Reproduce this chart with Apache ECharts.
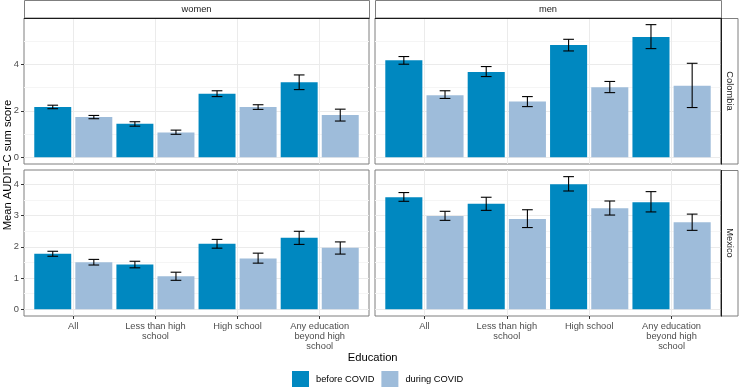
<!DOCTYPE html>
<html>
<head>
<meta charset="utf-8">
<script src="https://cdn.jsdelivr.net/npm/echarts@6/dist/echarts.min.js"></script>
<style>
  html, body { margin: 0; padding: 0; background: #ffffff; }
  #chart { width: 740px; height: 388px; }
</style>
</head>
<body>
<div id="chart"></div>
<script>
// ---------------- data ----------------
const categories = ['All', 'Less than high\nschool', 'High school', 'Any education\nbeyond high\nschool'];
const categoryPositions = [1, 2, 3, 4];
const sexes = ['women', 'men'];
const countries = ['Colombia', 'Mexico'];
const periods = ['before COVID', 'during COVID'];

// Colombia - women
const colWomenBefore   = [2.16, 1.44, 2.73, 3.23];
const colWomenBeforeLo = [2.09, 1.34, 2.61, 2.91];
const colWomenBeforeHi = [2.24, 1.53, 2.86, 3.54];
const colWomenDuring   = [1.73, 1.07, 2.16, 1.82];
const colWomenDuringLo = [1.66, 0.99, 2.06, 1.56];
const colWomenDuringHi = [1.80, 1.17, 2.26, 2.07];
// Colombia - men
const colMenBefore   = [4.17, 3.67, 4.83, 5.17];
const colMenBeforeLo = [4.00, 3.47, 4.57, 4.67];
const colMenBeforeHi = [4.33, 3.90, 5.07, 5.70];
const colMenDuring   = [2.67, 2.40, 3.01, 3.08];
const colMenDuringLo = [2.53, 2.18, 2.78, 2.14];
const colMenDuringHi = [2.86, 2.61, 3.26, 4.04];
// Mexico - women
const mexWomenBefore   = [1.78, 1.44, 2.10, 2.29];
const mexWomenBeforeLo = [1.70, 1.33, 1.96, 2.08];
const mexWomenBeforeHi = [1.86, 1.54, 2.24, 2.50];
const mexWomenDuring   = [1.51, 1.06, 1.63, 1.97];
const mexWomenDuringLo = [1.42, 0.93, 1.48, 1.77];
const mexWomenDuringHi = [1.60, 1.19, 1.80, 2.16];
// Mexico - men
const mexMenBefore   = [3.59, 3.38, 4.01, 3.43];
const mexMenBeforeLo = [3.46, 3.17, 3.79, 3.12];
const mexMenBeforeHi = [3.74, 3.59, 4.25, 3.77];
const mexMenDuring   = [2.99, 2.89, 3.24, 2.79];
const mexMenDuringLo = [2.85, 2.62, 3.02, 2.53];
const mexMenDuringHi = [3.14, 3.19, 3.47, 3.05];

// tick labels
const colombiaTicks = [0, 2, 4];
const colombiaMinorTicks = [1, 3, 5];
const mexicoTicks = [0, 1, 2, 3, 4];
const mexicoMinorTicks = [0.5, 1.5, 2.5, 3.5];

// ---------------- layout / style ----------------
const FONT = 'Liberation Sans, Arial, Helvetica, sans-serif';
const COLORS = ['#0088C0', '#9EBCDA'];
const DODGE = 0.25;
const CAP = 0.13;

// free y scale per country row (ggplot-like 5% expansion)
function rowLimits(his) {
  const m = Math.max.apply(null, [].concat.apply([], his));
  return [-0.05 * m, 1.05 * m];
}
const colLimits = rowLimits([colWomenBeforeHi, colWomenDuringHi, colMenBeforeHi, colMenDuringHi]);
const mexLimits = rowLimits([mexWomenBeforeHi, mexWomenDuringHi, mexMenBeforeHi, mexMenDuringHi]);

const panels = [
  { grid: { left: 24, top: 18, width: 345, height: 146 }, left: true, bottom: false,
    lim: colLimits, ticks: colombiaTicks, minor: colombiaMinorTicks,
    vals: [colWomenBefore, colWomenDuring], lo: [colWomenBeforeLo, colWomenDuringLo], hi: [colWomenBeforeHi, colWomenDuringHi] },
  { grid: { left: 375, top: 18, width: 346, height: 146 }, left: false, bottom: false,
    lim: colLimits, ticks: colombiaTicks, minor: colombiaMinorTicks,
    vals: [colMenBefore, colMenDuring], lo: [colMenBeforeLo, colMenDuringLo], hi: [colMenBeforeHi, colMenDuringHi] },
  { grid: { left: 24, top: 170, width: 345, height: 146 }, left: true, bottom: true,
    lim: mexLimits, ticks: mexicoTicks, minor: mexicoMinorTicks,
    vals: [mexWomenBefore, mexWomenDuring], lo: [mexWomenBeforeLo, mexWomenDuringLo], hi: [mexWomenBeforeHi, mexWomenDuringHi] },
  { grid: { left: 375, top: 170, width: 346, height: 146 }, left: false, bottom: true,
    lim: mexLimits, ticks: mexicoTicks, minor: mexicoMinorTicks,
    vals: [mexMenBefore, mexMenDuring], lo: [mexMenBeforeLo, mexMenDuringLo], hi: [mexMenBeforeHi, mexMenDuringHi] }
];

function errRender(offset) {
  return function (params, api) {
    const x = api.value(0) + offset;
    const a = api.coord([x, api.value(1)]);
    const b = api.coord([x, api.value(2)]);
    const half = api.size([CAP, 0])[0] / 2;
    const st = { stroke: '#000', lineWidth: 1.1 };
    return {
      type: 'group',
      children: [
        { type: 'line', shape: { x1: a[0], y1: a[1], x2: b[0], y2: b[1] }, style: st },
        { type: 'line', shape: { x1: a[0] - half, y1: a[1], x2: a[0] + half, y2: a[1] }, style: st },
        { type: 'line', shape: { x1: b[0] - half, y1: b[1], x2: b[0] + half, y2: b[1] }, style: st }
      ]
    };
  };
}

const grids = [], xAxes = [], yAxes = [], series = [];
panels.forEach(function (p, g) {
  grids.push(Object.assign({ show: true, borderColor: '#7f7f7f', borderWidth: 1, backgroundColor: 'transparent' }, p.grid));
  xAxes.push({
    gridIndex: g, type: 'value', min: 0.4, max: 4.6, position: 'bottom',
    axisLine: { show: false, onZero: false },
    axisTick: { show: p.bottom, length: 3, lineStyle: { color: '#333' }, customValues: categoryPositions },
    axisLabel: { show: p.bottom, customValues: categoryPositions, margin: 5,
      fontFamily: FONT, fontSize: 9.3, lineHeight: 10, color: '#4d4d4d', align: 'center',
      formatter: function (v) { return categories[Math.round(v) - 1]; } },
    splitLine: { show: true, lineStyle: { color: '#ebebeb', width: 1 } }
  });
  yAxes.push({
    gridIndex: g, type: 'value', min: p.lim[0], max: p.lim[1],
    axisLine: { show: false, onZero: false },
    axisTick: { show: p.left, length: 3, lineStyle: { color: '#333' }, customValues: p.ticks },
    axisLabel: { show: p.left, customValues: p.ticks, margin: 5, fontFamily: FONT, fontSize: 9.3, color: '#4d4d4d' },
    splitLine: { show: true, lineStyle: { color: '#ebebeb', width: 1 } }
  });
});
// minor gridline axes
panels.forEach(function (p, g) {
  yAxes.push({
    gridIndex: g, type: 'value', min: p.lim[0], max: p.lim[1],
    axisLine: { show: false, onZero: false },
    axisTick: { show: false, customValues: p.minor },
    axisLabel: { show: false, customValues: p.minor },
    splitLine: { show: true, lineStyle: { color: '#f5f5f5', width: 1 } },
    z: 0
  });
});

panels.forEach(function (p, g) {
  [0, 1].forEach(function (k) {
    series.push({
      type: 'bar', name: periods[k], xAxisIndex: g, yAxisIndex: g,
      barWidth: '45%', barGap: '11.1%',
      itemStyle: { color: COLORS[k] },
      silent: true,
      data: categoryPositions.map(function (x, i) { return [x, p.vals[k][i]]; })
    });
  });
  [0, 1].forEach(function (k) {
    series.push({
      type: 'custom', xAxisIndex: g, yAxisIndex: g, z: 5, silent: true,
      encode: { x: 0, y: [1, 2] },
      renderItem: errRender(k === 0 ? -DODGE : DODGE),
      data: categoryPositions.map(function (x, i) { return [x, p.lo[k][i], p.hi[k][i]]; })
    });
  });
});

const stripFill = '#ffffff', stripStroke = '#7f7f7f', dark = '#1a1a1a';
const graphic = [
  // top strips
  { type: 'rect', shape: { x: 24.5, y: 0.5, width: 345, height: 17.5 }, style: { fill: stripFill, stroke: stripStroke, lineWidth: 1 }, z: 10 },
  { type: 'rect', shape: { x: 375.5, y: 0.5, width: 346, height: 17.5 }, style: { fill: stripFill, stroke: stripStroke, lineWidth: 1 }, z: 10 },
  { type: 'text', x: 196.5, y: 9.5, style: { text: sexes[0], fontFamily: FONT, fontSize: 9.3, fill: dark, align: 'center', verticalAlign: 'middle' }, z: 11 },
  { type: 'text', x: 548, y: 9.5, style: { text: sexes[1], fontFamily: FONT, fontSize: 9.3, fill: dark, align: 'center', verticalAlign: 'middle' }, z: 11 },
  // right strips
  { type: 'rect', shape: { x: 721, y: 18.5, width: 17, height: 145.5 }, style: { fill: stripFill, stroke: stripStroke, lineWidth: 1 }, z: 10 },
  { type: 'rect', shape: { x: 721, y: 170.5, width: 17, height: 145.5 }, style: { fill: stripFill, stroke: stripStroke, lineWidth: 1 }, z: 10 },
  { type: 'text', x: 730, y: 91, rotation: -Math.PI / 2, style: { text: countries[0], fontFamily: FONT, fontSize: 9.3, fill: dark, align: 'center', verticalAlign: 'middle' }, z: 11 },
  { type: 'text', x: 730, y: 243, rotation: -Math.PI / 2, style: { text: countries[1], fontFamily: FONT, fontSize: 9.3, fill: dark, align: 'center', verticalAlign: 'middle' }, z: 11 },
  // strip/panel boundary lines
  { type: 'line', shape: { x1: 24, y1: 18.5, x2: 369.5, y2: 18.5 }, style: { stroke: dark, lineWidth: 1 }, z: 12 },
  { type: 'line', shape: { x1: 375, y1: 18.5, x2: 721.5, y2: 18.5 }, style: { stroke: dark, lineWidth: 1 }, z: 12 },
  { type: 'line', shape: { x1: 721.5, y1: 18, x2: 721.5, y2: 164.5 }, style: { stroke: dark, lineWidth: 1 }, z: 12 },
  { type: 'line', shape: { x1: 721.5, y1: 170, x2: 721.5, y2: 316.5 }, style: { stroke: dark, lineWidth: 1 }, z: 12 },
  // axis titles
  { type: 'text', x: 8, y: 165, rotation: Math.PI / 2, style: { text: 'Mean AUDIT-C sum score', fontFamily: FONT, fontSize: 11.2, fill: '#000', align: 'center', verticalAlign: 'middle' }, z: 11 },
  { type: 'text', x: 372.7, y: 357.5, style: { text: 'Education', fontFamily: FONT, fontSize: 11.2, fill: '#000', align: 'center', verticalAlign: 'middle' }, z: 11 }
];

const chart = echarts.init(document.getElementById('chart'), null, { renderer: 'canvas' });
chart.setOption({
  animation: false,
  backgroundColor: '#ffffff',
  grid: grids,
  xAxis: xAxes,
  yAxis: yAxes,
  series: series,
  graphic: graphic,
  legend: {
    data: periods, left: 292, top: 371, padding: 0, orient: 'horizontal',
    itemWidth: 17, itemHeight: 16, itemGap: 7, icon: 'rect', selectedMode: false,
    textStyle: { fontFamily: FONT, fontSize: 9.3, color: '#000', padding: [0, 0, 0, 2] }
  }
});
</script>
</body>
</html>
